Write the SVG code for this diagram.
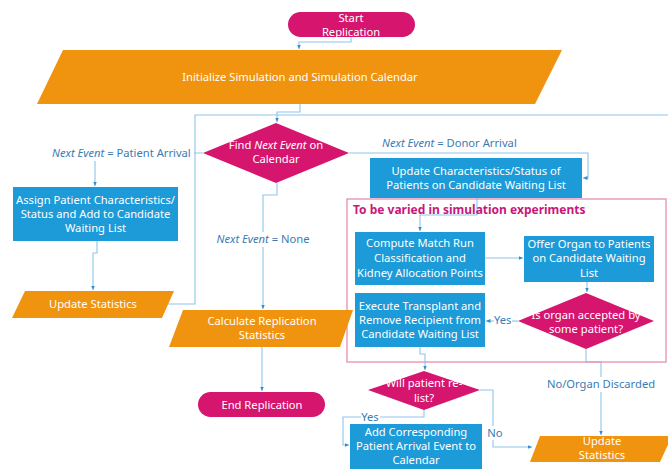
<svg xmlns="http://www.w3.org/2000/svg" width="668" height="469" viewBox="0 0 668 469">
<defs>
<marker id="arr" markerUnits="userSpaceOnUse" markerWidth="5" markerHeight="5" refX="4.5" refY="2.5" orient="auto">
<path d="M0,0.5 L4.5,2.5 L0,4.5 z" fill="#2f8fd0"/>
</marker>
<style>
.pk{fill:#d6156f}
.or{fill:#f0930f}
.bl{fill:#1d9ad8}
.t{font-family:"Noto Sans","Open Sans",sans-serif;font-size:11.2px;fill:#ffffff;text-anchor:middle}
.lb{font-family:"Noto Sans","Open Sans",sans-serif;font-size:11.2px;fill:#3b7bb5}
.lbc{text-anchor:middle}
.bg{fill:#ffffff}
.c{fill:none;stroke:#8fc5ea;stroke-width:1.1}
.ca{fill:none;stroke:#8fc5ea;stroke-width:1.1;marker-end:url(#arr)}
</style>
</defs>
<rect width="668" height="469" fill="#ffffff"/>

<g id="connectors">
<path class="ca" d="M351,37 V42 H299 V49"/>
<path class="ca" d="M300,104 V112 H277 V122"/>
<path class="c" d="M168,304 H195 V115 H668"/>
<path class="ca" d="M203,153 H95 V186"/>
<path class="ca" d="M349,153 H588 V178 H583"/>
<path class="ca" d="M97,241 V253 H93 V290"/>
<path class="ca" d="M277,183 V195 H263 V309"/>
<path class="ca" d="M262,347 V391"/>
<path class="ca" d="M477,198 V215 H420 V231"/>
<path class="ca" d="M485,258 H523"/>
<path class="ca" d="M587,282 V292"/>
<path class="ca" d="M518,321 H486"/>
<path class="ca" d="M586,349 V362 H601 V435"/>
<path class="ca" d="M420,347 V354 H425 V370"/>
<path class="ca" d="M424,410 V417 H343 V445 H349"/>
<path class="ca" d="M480,390 H493 V447 H532"/>
<rect class="bg" x="51" y="146" width="143" height="15"/>
<text class="lb" x="52" y="157"><tspan font-style="italic">Next Event</tspan> = Patient Arrival</text>
<text class="lb" x="382" y="147"><tspan font-style="italic">Next Event</tspan> = Donor Arrival</text>
<rect class="bg" x="212" y="232" width="102" height="15"/>
<text class="lb lbc" x="263" y="243"><tspan font-style="italic">Next Event</tspan> = None</text>
<rect class="bg" x="494" y="313" width="18" height="14"/>
<text class="lb" x="494" y="324">Yes</text>
<rect class="bg" x="546" y="377" width="111" height="15"/>
<text class="lb lbc" x="601" y="388">No/Organ Discarded</text>
<rect class="bg" x="361" y="411" width="19" height="10"/>
<text class="lb lbc" x="370" y="421">Yes</text>
<rect class="bg" x="486" y="426" width="18" height="14"/>
<text class="lb lbc" x="495" y="437">No</text>
</g>

<g id="experiment-box">
<rect x="347" y="199" width="319" height="163" fill="none" stroke="#e98db3" stroke-width="1.3"/>
<text x="353" y="214" font-family="'Noto Sans','Open Sans',sans-serif" font-size="12px" font-weight="bold" fill="#c8177a">To be varied in simulation experiments</text>
</g>

<g id="start">
<rect class="pk" x="288" y="12" width="127" height="25" rx="12.5"/>
<text class="t" x="351" y="21.5">Start</text>
<text class="t" x="351" y="36">Replication</text>
</g>

<g id="init">
<polygon class="or" points="63,50 562,50 535,104 37,104"/>
<text class="t" x="300" y="81">Initialize Simulation and Simulation Calendar</text>
</g>

<g id="find">
<polygon class="pk" points="276,123 349,153 276,183 203,153"/>
<text class="t" x="276" y="149">Find <tspan font-style="italic">Next Event</tspan> on</text>
<text class="t" x="276" y="163">Calendar</text>
</g>

<g id="assign">
<rect class="bl" x="13" y="187" width="165" height="54"/>
<text class="t" x="95.5" y="204">Assign Patient Characteristics/</text>
<text class="t" x="95.5" y="218">Status and Add to Candidate</text>
<text class="t" x="95.5" y="232">Waiting List</text>
</g>

<g id="update-stats-left">
<polygon class="or" points="25,291 174,291 162,318 12,318"/>
<text class="t" x="93" y="308">Update Statistics</text>
</g>

<g id="update-char">
<rect class="bl" x="370" y="158" width="212" height="40"/>
<text class="t" x="476" y="175">Update Characteristics/Status of</text>
<text class="t" x="476" y="189">Patients on Candidate Waiting List</text>
</g>

<g id="compute">
<rect class="bl" x="355" y="232" width="130" height="53"/>
<text class="t" x="420" y="247">Compute Match Run</text>
<text class="t" x="420" y="262">Classification and</text>
<text class="t" x="420" y="277">Kidney Allocation Points</text>
</g>

<g id="offer">
<rect class="bl" x="524" y="236" width="130" height="46"/>
<text class="t" x="589" y="248">Offer Organ to Patients</text>
<text class="t" x="589" y="262">on Candidate Waiting</text>
<text class="t" x="589" y="277">List</text>
</g>

<g id="execute">
<rect class="bl" x="355" y="293" width="130" height="54"/>
<text class="t" x="420" y="310">Execute Transplant and</text>
<text class="t" x="420" y="324">Remove Recipient from</text>
<text class="t" x="420" y="338">Candidate Waiting List</text>
</g>

<g id="accepted">
<polygon class="pk" points="586,293 654,321 586,349 518,321"/>
<text class="t" x="586" y="319">Is organ accepted by</text>
<text class="t" x="586" y="333">some patient?</text>
</g>

<g id="calc">
<polygon class="or" points="183,310 353,310 340,347 169,347"/>
<text class="t" x="262" y="325">Calculate Replication</text>
<text class="t" x="262" y="339">Statistics</text>
</g>

<g id="end">
<rect class="pk" x="198" y="392" width="127" height="25" rx="12.5"/>
<text class="t" x="262" y="409">End Replication</text>
</g>

<g id="relist">
<polygon class="pk" points="424,371 480,390 424,410 368,390"/>
<text class="t" x="424" y="387">Will patient re-</text>
<text class="t" x="424" y="402">list?</text>
</g>

<g id="add-event">
<rect class="bl" x="350" y="424" width="132" height="45"/>
<text class="t" x="416" y="436">Add Corresponding</text>
<text class="t" x="416" y="450">Patient Arrival Event to</text>
<text class="t" x="416" y="464">Calendar</text>
</g>

<g id="update-stats-right">
<polygon class="or" points="540,436 672,436 660,462 530,462"/>
<text class="t" x="602" y="445">Update</text>
<text class="t" x="602" y="459">Statistics</text>
</g>
</svg>
